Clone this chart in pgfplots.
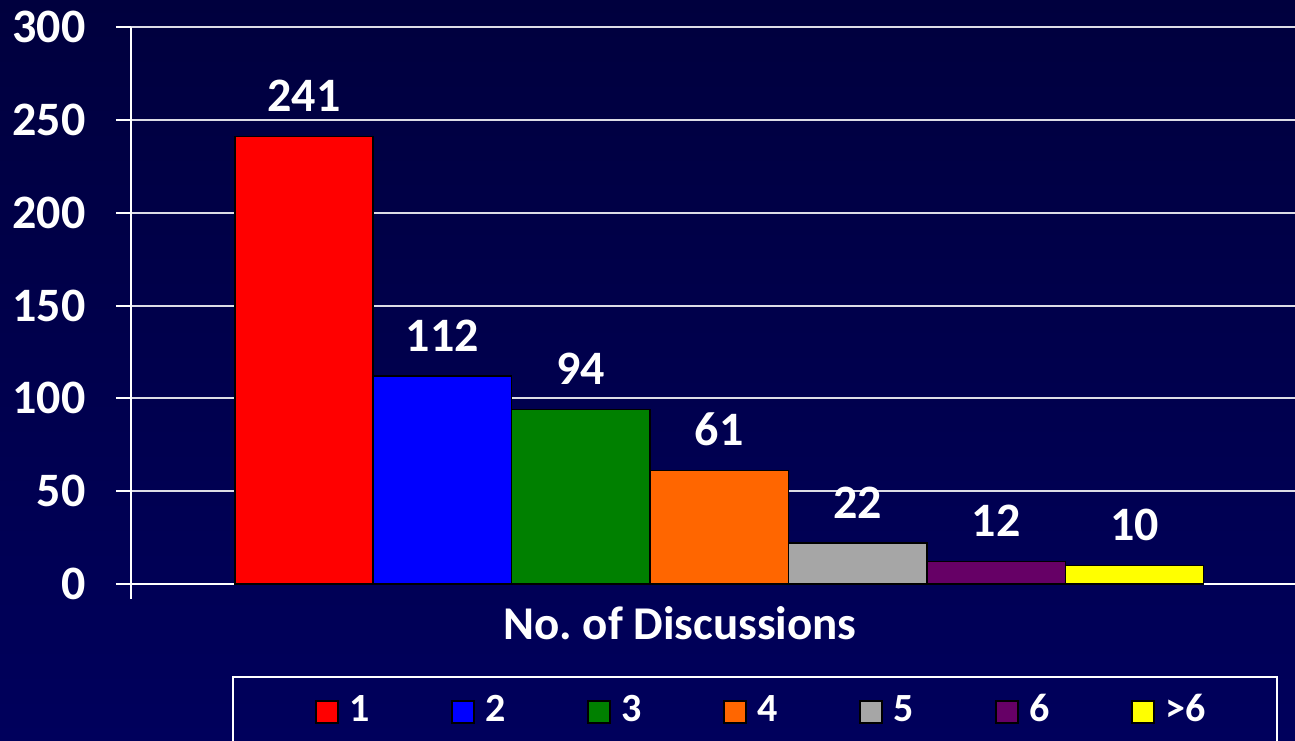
\documentclass[border=0pt]{standalone}
\usepackage{fontspec}
\setmainfont{Carlito}
\usepackage{pgfplots}
\pgfplotsset{compat=1.18}
\definecolor{bgtop}{RGB}{0,0,62}
\definecolor{bgbot}{RGB}{0,0,92}
\definecolor{gridc}{RGB}{220,220,230}
\definecolor{cA}{RGB}{255,0,0}
\definecolor{cB}{RGB}{0,0,255}
\definecolor{cC}{RGB}{0,128,0}
\definecolor{cD}{RGB}{255,102,0}
\definecolor{cE}{RGB}{166,166,166}
\definecolor{cF}{RGB}{102,0,102}
\definecolor{cG}{RGB}{255,255,0}
\begin{document}
\begin{tikzpicture}
\useasboundingbox (0,0) rectangle (647.5pt,370pt);
\shade[top color=bgtop, bottom color=bgbot] (0,0) rectangle (647.5pt,370pt);
\begin{axis}[
  at={(65.5pt,78pt)}, anchor=south west,
  scale only axis, width=582pt, height=278.5pt,
  xmin=-1.25, xmax=7.16, ymin=0, ymax=300,
  axis lines*=left,
  axis line style={white, line width=1pt},
  ytick={0,50,...,300},
  xtick={-1.25}, xticklabels={},
  tick align=outside,
  major tick length=7.5pt,
  tick style={white, line width=1pt},
  ymajorgrids,
  grid style={gridc, line width=1pt},
  /pgf/number format/assume math mode=true,
  ticklabel style={font=\fontsize{24}{28}\selectfont\bfseries, text=white},
  yticklabel style={inner sep=0pt, xshift=-15pt},
  ybar, bar shift=0pt, bar width=1,
  every axis plot/.append style={draw=black, line width=0.75pt},
  nodes near coords,
  every node near coord/.append style={font=\fontsize{24}{28}\selectfont\bfseries, text=white, anchor=south, inner sep=0pt, yshift=12pt},
  legend columns=7,
  legend style={at={(axis description cs:0.1581,-0.2244)}, anchor=west, draw=none, fill=none,
    inner sep=0pt, outer sep=0pt,
    nodes={inner sep=0pt, text=white, font=\fontsize{20}{24}\selectfont\bfseries, anchor=base west},
    column sep=0pt,
    /tikz/every even column/.append style={column sep=30.75pt}},
  legend image code/.code={\draw[#1, draw=black, line width=0.75pt] (0pt,-1pt) rectangle (11pt,10pt); \path (16.5pt,0pt);},
]
\addplot[fill=cA] coordinates {(0,241)}; \addlegendentry{\makebox[20pt][l]{1}}
\addplot[fill=cB] coordinates {(1,112)}; \addlegendentry{\makebox[20pt][l]{2}}
\addplot[fill=cC] coordinates {(2,94)}; \addlegendentry{\makebox[20pt][l]{3}}
\addplot[fill=cD] coordinates {(3,61)}; \addlegendentry{\makebox[20pt][l]{4}}
\addplot[fill=cE] coordinates {(4,22)}; \addlegendentry{\makebox[20pt][l]{5}}
\addplot[fill=cF] coordinates {(5,12)}; \addlegendentry{\makebox[20pt][l]{6}}
\addplot[fill=cG] coordinates {(6,10)}; \addlegendentry{\makebox[20pt][l]{>6}}
\end{axis}
\node[anchor=base, text=white, font=\fontsize{23.5}{28}\selectfont\bfseries, inner sep=0pt] at (340pt,50.5pt) {No.\ of Discussions};
\draw[white, line width=1pt] (116.5pt,31.5pt) rectangle (638.5pt,-10pt);
\end{tikzpicture}
\end{document}
